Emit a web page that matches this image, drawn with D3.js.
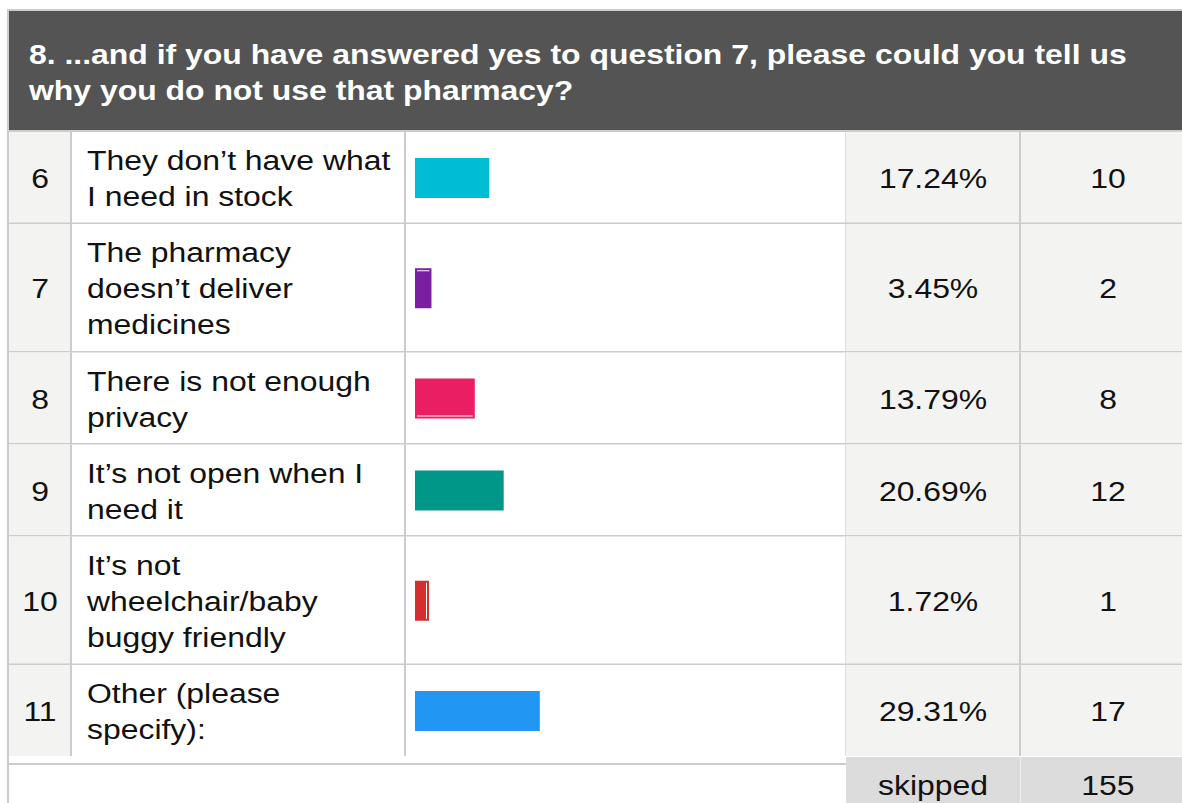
<!DOCTYPE html>
<html><head><meta charset="utf-8">
<script src="https://cdn.jsdelivr.net/npm/d3@7"></script>
<style>body{margin:0;background:#fff}svg{display:block}text{font-family:"Liberation Sans",Arial,sans-serif}</style>
</head><body><svg id="c" width="1182" height="803"></svg>
<script>
const titleLines = ["8. ...and if you have answered yes to question 7, please could you tell us", "why you do not use that pharmacy?"];
const rowNumbers = [6, 7, 8, 9, 10, 11];
const labels = [
  ["They don\u2019t have what", "I need in stock"],
  ["The pharmacy", "doesn\u2019t deliver", "medicines"],
  ["There is not enough", "privacy"],
  ["It\u2019s not open when I", "need it"],
  ["It\u2019s not", "wheelchair/baby", "buggy friendly"],
  ["Other (please", "specify):"]
];
const percents = [17.24, 3.45, 13.79, 20.69, 1.72, 29.31];
const counts = [10, 2, 8, 12, 1, 17];
const barColors = ["#00bcd4", "#7b1fa2", "#e91e63", "#009688", "#d32f2f", "#2196f3"];
const barGlints = ["", "top", "bottom", "", "right", ""];
const skippedLabel = "skipped";
const skippedCount = 155;

const svg = d3.select("#c");
const W = 1182, H = 803;
const col = {left: 7, num: 9, label: 72, bar: 406, pct: 846, cnt: 1021, end: 1195};
const lineC = "#cccccc", cellBg = "#f3f3f2";
const SX = 1.14, fs = 28;

function txt(parent, tx, ty, s, opts = {}) {
  return parent.append("text")
    .attr("transform", `translate(${tx},${ty}) scale(${SX},1)`)
    .attr("text-anchor", opts.anchor || "start")
    .attr("font-size", fs)
    .attr("font-weight", opts.bold ? "bold" : "normal")
    .attr("fill", opts.fill || "#111")
    .text(s);
}

// header
svg.append("rect").attr("x", col.left).attr("y", 9).attr("width", W).attr("height", 2).attr("fill", lineC);
svg.append("rect").attr("x", col.num).attr("y", 11).attr("width", W).attr("height", 119).attr("fill", "#535453");
svg.append("rect").attr("x", col.left).attr("y", 9).attr("width", 2).attr("height", H).attr("fill", lineC);
svg.append("rect").attr("x", col.num).attr("y", 130).attr("width", W).attr("height", 2).attr("fill", lineC);
titleLines.forEach((t, i) => txt(svg, 29, 64 + i * 36, t, {bold: true, fill: "#ffffff"}));

// rows
const rows = [];
let y = 132;
labels.forEach((lines, i) => {
  const h = 19 + 36.5 * lines.length;
  rows.push({i, y0: y, h, lines, num: rowNumbers[i], pct: percents[i], cnt: counts[i], color: barColors[i], glint: barGlints[i]});
  y += h;
});
const tableEnd = y - 1;

const x = d3.scaleLinear().domain([0, 100]).range([417, 836]);
const barX0 = 415, barH = 40;

const g = svg.selectAll("g.row").data(rows).join("g").attr("class", "row");
g.append("rect").attr("x", col.num).attr("y", d => d.y0).attr("width", col.label - col.num - 2).attr("height", d => d.h - 1).attr("fill", cellBg);
g.append("rect").attr("x", col.pct).attr("y", d => d.y0).attr("width", col.end - col.pct).attr("height", d => d.h - 1).attr("fill", cellBg);
[col.label - 2, col.bar - 2, col.cnt - 2].forEach(vx => {
  g.append("rect").attr("x", vx).attr("y", d => d.y0).attr("width", 2).attr("height", d => d.h - 1).attr("fill", lineC);
});
g.append("rect").attr("x", col.pct - 1).attr("y", d => d.y0).attr("width", 1).attr("height", d => d.h - 1).attr("fill", "#dddddd");
g.filter(d => d.i < rows.length - 1).append("rect").attr("x", col.num).attr("y", d => d.y0 + d.h - 1.5).attr("width", W).attr("height", 1.5).attr("fill", lineC);

g.each(function(d) {
  const sel = d3.select(this);
  const cy = d.y0 + d.h / 2 + 10;
  txt(sel, 40, cy, d.num, {anchor: "middle"});
  const n = d.lines.length;
  d.lines.forEach((t, j) => txt(sel, 87, d.y0 + d.h / 2 - (n - 1) * 18 + 10 + j * 36, t));
  txt(sel, 933, cy, d.pct.toFixed(2) + "%", {anchor: "middle"});
  txt(sel, 1108, cy, d.cnt, {anchor: "middle"});
});

// bars
g.append("rect").attr("x", barX0).attr("y", d => d.y0 + d.h / 2 - barH / 2)
  .attr("width", d => Math.max(14, x(d.pct) - barX0)).attr("height", barH).attr("fill", d => d.color);
g.each(function(d) {
  if (!d.glint) return;
  const sel = d3.select(this);
  const bw = Math.max(14, x(d.pct) - barX0), by = d.y0 + d.h / 2 - barH / 2;
  if (d.glint === "top") sel.append("rect").attr("x", barX0 + 2).attr("y", by + 2).attr("width", bw - 4).attr("height", 1).attr("fill", "#fff");
  if (d.glint === "bottom") sel.append("rect").attr("x", barX0 + 2).attr("y", by + barH - 3).attr("width", bw - 4).attr("height", 1).attr("fill", "#fff");
  if (d.glint === "right") sel.append("rect").attr("x", barX0 + bw - 3).attr("y", by + 2).attr("width", 1).attr("height", barH - 4).attr("fill", "#fff");
});

// bottom / skipped row
svg.append("rect").attr("x", col.left).attr("y", 763).attr("width", col.pct - col.left).attr("height", 2).attr("fill", lineC);
svg.append("rect").attr("x", col.pct).attr("y", tableEnd + 1).attr("width", col.end - col.pct).attr("height", H).attr("fill", "#dcdcdc");
svg.append("rect").attr("x", col.cnt - 1).attr("y", tableEnd + 1).attr("width", 1).attr("height", H).attr("fill", "#eeeeee");
txt(svg, 933, 795, skippedLabel, {anchor: "middle"});
txt(svg, 1108, 795, skippedCount, {anchor: "middle"});
</script></body></html>
